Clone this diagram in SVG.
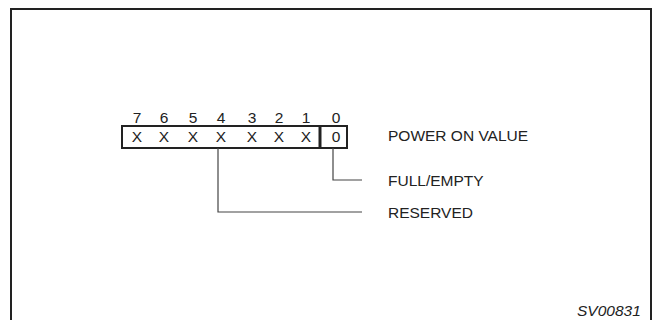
<svg xmlns="http://www.w3.org/2000/svg" width="654" height="320" viewBox="0 0 654 320">
<style>
text{font-family:"Liberation Sans",Arial,sans-serif;font-size:15.5px;fill:#222}
.c{text-anchor:middle}
.ln{fill:none;stroke:#444;stroke-width:1.2}
</style>
<rect x="0" y="0" width="654" height="320" fill="#fff"/>
<rect id="frame" x="11" y="9" width="640" height="330" fill="none" stroke="#222" stroke-width="2"/>
<g id="register">
<rect x="122" y="126" width="225" height="22" fill="none" stroke="#222" stroke-width="2"/>
<line x1="320" y1="126" x2="320" y2="148" stroke="#222" stroke-width="3"/>
<text class="c" x="137" y="123">7</text>
<text class="c" x="164" y="123">6</text>
<text class="c" x="193" y="123">5</text>
<text class="c" x="221" y="123">4</text>
<text class="c" x="252" y="123">3</text>
<text class="c" x="279" y="123">2</text>
<text class="c" x="306" y="123">1</text>
<text class="c" x="336" y="123">0</text>
<text class="c" x="137" y="142">X</text>
<text class="c" x="164" y="142">X</text>
<text class="c" x="193" y="142">X</text>
<text class="c" x="221" y="142">X</text>
<text class="c" x="252" y="142">X</text>
<text class="c" x="279" y="142">X</text>
<text class="c" x="306" y="142">X</text>
<text class="c" x="336" y="142">0</text>
</g>
<g id="connectors">
<polyline class="ln" points="333,148 333,180 362,180"/>
<polyline class="ln" points="218,148 218,212 362,212"/>
</g>
<g id="labels">
<text x="388" y="141">POWER ON VALUE</text>
<text x="388" y="186">FULL/EMPTY</text>
<text x="388" y="218">RESERVED</text>
<text x="577" y="316" font-style="italic">SV00831</text>
</g>
</svg>
